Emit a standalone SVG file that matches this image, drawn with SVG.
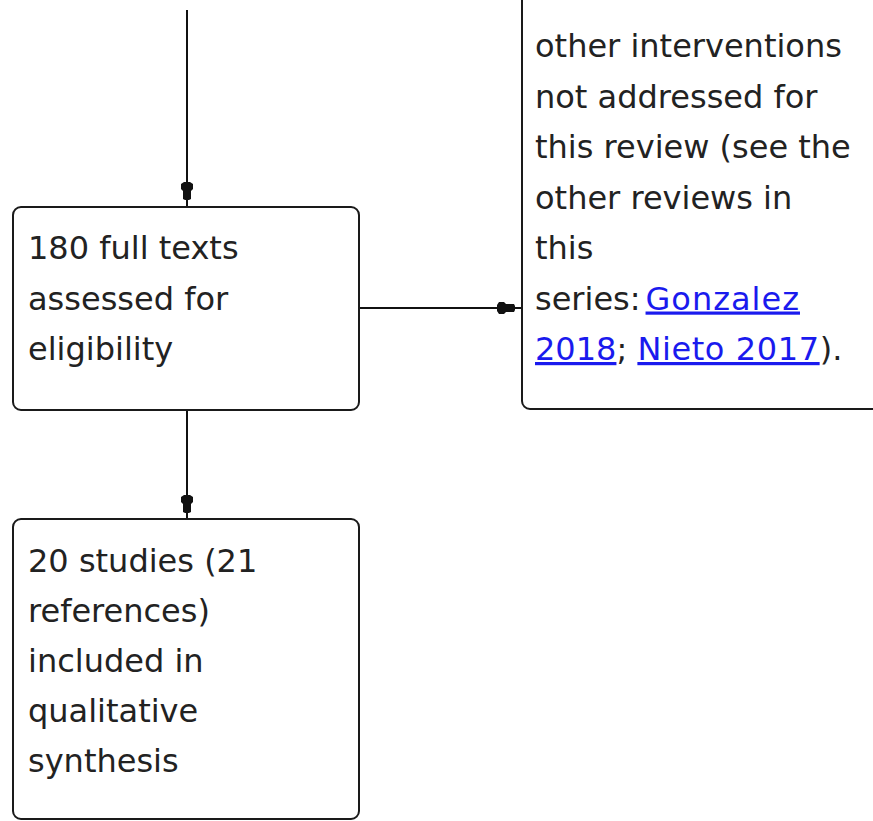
<svg xmlns="http://www.w3.org/2000/svg" width="873" height="821" viewBox="0 0 873 821">
<style>
.box{fill:#fff;stroke:#1a1a1a;stroke-width:2}
.t{font-family:"DejaVu Sans",sans-serif;font-size:32px;fill:#222}
.lk{fill:#1a1aee;text-decoration:underline}
.c{stroke:#111;stroke-width:2;fill:none}
</style>
<defs>
<marker id="ah" markerUnits="userSpaceOnUse" markerWidth="28" markerHeight="16" viewBox="-26 -8 28 16" refX="0" refY="0" orient="auto">
<path d="M-24,-3 L-22,-6 L-17,-6 L-15,-4 L-7,-4 L-6,-2 L-6,2 L-7,4 L-15,4 L-17,6 L-22,6 L-24,3 Z" fill="#111"/>
</marker>
</defs>
<rect width="873" height="821" fill="#fff"/>
<g id="connectors">
<line class="c" x1="187" y1="10" x2="187" y2="206" marker-end="url(#ah)"/>
<line class="c" x1="360" y1="308" x2="521" y2="308" marker-end="url(#ah)"/>
<line class="c" x1="187" y1="410" x2="187" y2="519" marker-end="url(#ah)"/>
</g>
<g id="full-texts">
<rect class="box" x="13" y="207" width="346" height="203" rx="8"/>
<text class="t" x="28" y="259">180 full texts</text>
<text class="t" x="28" y="309.5">assessed for</text>
<text class="t" x="28" y="360">eligibility</text>
</g>
<g id="excluded">
<rect class="box" x="522" y="-20" width="380" height="429" rx="8"/>
<text class="t" x="535" y="57">other interventions</text>
<text class="t" x="535" y="107.5">not addressed for</text>
<text class="t" x="535" y="158">this review (see the</text>
<text class="t" x="535" y="208.5">other reviews in</text>
<text class="t" x="535" y="259">this</text>
<text class="t" x="535" y="309.5">series:<tspan class="lk" dx="5" letter-spacing="1">Gonzalez</tspan></text>
<text class="t" x="535" y="360"><tspan class="lk">2018</tspan>; <tspan class="lk" letter-spacing="0.6">Nieto 2017</tspan>).</text>
</g>
<g id="included">
<rect class="box" x="13" y="519" width="346" height="300" rx="8"/>
<text class="t" x="28" y="571.5">20 studies (21</text>
<text class="t" x="28" y="621.5">references)</text>
<text class="t" x="28" y="671.5">included in</text>
<text class="t" x="28" y="721.5">qualitative</text>
<text class="t" x="28" y="771.5">synthesis</text>
</g>
</svg>
